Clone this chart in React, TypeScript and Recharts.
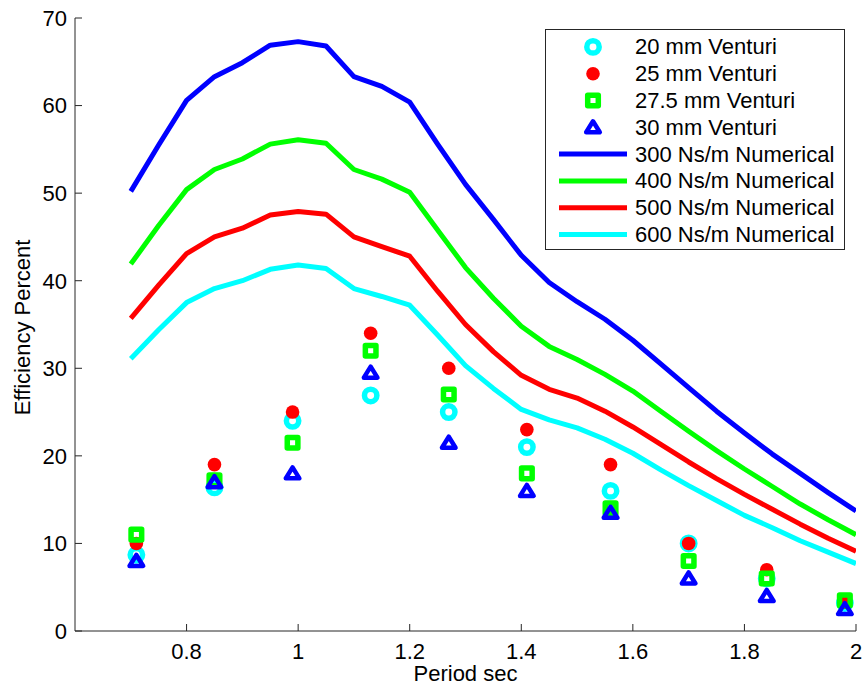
import { ComposedChart, Line, Scatter, XAxis, YAxis, Label } from "recharts";

// numerical model, x = period (s)
const periodNum = [0.7, 0.75, 0.8, 0.85, 0.9, 0.95, 1.0, 1.05, 1.1, 1.15, 1.2, 1.25, 1.3, 1.35, 1.4, 1.45, 1.5, 1.55, 1.6, 1.65, 1.7, 1.75, 1.8, 1.85, 1.9, 1.95, 2.0];
const damp300 = [50.2, 55.5, 60.6, 63.3, 64.9, 66.9, 67.3, 66.8, 63.3, 62.2, 60.4, 55.6, 51.0, 47.0, 42.9, 39.8, 37.6, 35.6, 33.2, 30.5, 27.8, 25.1, 22.6, 20.2, 18.0, 15.8, 13.7];
const damp400 = [41.9, 46.3, 50.4, 52.7, 53.9, 55.6, 56.1, 55.7, 52.7, 51.6, 50.1, 45.8, 41.5, 38.0, 34.8, 32.5, 31.0, 29.3, 27.4, 25.1, 22.8, 20.6, 18.5, 16.5, 14.5, 12.7, 11.0];
const damp500 = [35.7, 39.5, 43.1, 45.0, 46.0, 47.5, 47.9, 47.6, 45.0, 43.9, 42.8, 38.8, 35.0, 31.9, 29.2, 27.6, 26.6, 25.1, 23.3, 21.3, 19.3, 17.4, 15.6, 13.9, 12.2, 10.6, 9.1];
const damp600 = [31.1, 34.4, 37.5, 39.1, 40.0, 41.3, 41.8, 41.4, 39.1, 38.2, 37.2, 33.8, 30.3, 27.7, 25.3, 24.1, 23.2, 21.9, 20.3, 18.4, 16.6, 14.9, 13.2, 11.8, 10.3, 9.0, 7.7];

// experiments
const periodExp = [0.71, 0.85, 0.99, 1.13, 1.27, 1.41, 1.56, 1.7, 1.84, 1.98];
const venturi20 = [8.7, 16.4, 24.0, 26.9, 25.0, 21.0, 16.0, 10.0, 6.0, 3.2];
const venturi25 = [10.0, 19.0, 25.0, 34.0, 30.0, 23.0, 19.0, 10.0, 7.0, 3.3];
const venturi275 = [11.0, 17.2, 21.5, 32.0, 27.0, 18.0, 14.0, 8.0, 6.0, 3.5];
const venturi30 = [8.0, 17.0, 18.0, 29.5, 21.5, 16.0, 13.5, 6.0, 4.0, 2.5];

const xTicks = [0.8, 1, 1.2, 1.4, 1.6, 1.8, 2];
const yTicks = [0, 10, 20, 30, 40, 50, 60, 70];

const FONT = '"Liberation Sans", Arial, sans-serif';
const FS = 22;
const AXIS = "#262626";

const toPts = (xs: number[], ys: number[]) => xs.map((x, i) => ({ x, y: ys[i] }));

const Ring = ({ cx, cy }: any) => <circle cx={cx} cy={cy} r={6.2} fill="none" stroke="#00FFFF" strokeWidth={5.5} />;
const Dot = ({ cx, cy }: any) => <circle cx={cx} cy={cy} r={6.8} fill="#FF0000" />;
const Sq = ({ cx, cy }: any) => (
  <rect x={cx - 5.3} y={cy - 5.3} width={10.6} height={10.6} fill="none" stroke="#00FF00" strokeWidth={5.5} strokeLinejoin="round" />
);
const Tri = ({ cx, cy }: any) => (
  <path d={`M${cx},${cy - 6}L${cx + 6.8},${cy + 5}L${cx - 6.8},${cy + 5}Z`} fill="none" stroke="#0000FF" strokeWidth={4.5} strokeLinejoin="round" />
);

const markers = [
  { name: "20 mm Venturi", ys: venturi20, Shape: Ring },
  { name: "25 mm Venturi", ys: venturi25, Shape: Dot },
  { name: "27.5 mm Venturi", ys: venturi275, Shape: Sq },
  { name: "30 mm Venturi", ys: venturi30, Shape: Tri },
];
const curves = [
  { name: "300 Ns/m Numerical", ys: damp300, color: "#0000FF" },
  { name: "400 Ns/m Numerical", ys: damp400, color: "#00FF00" },
  { name: "500 Ns/m Numerical", ys: damp500, color: "#FF0000" },
  { name: "600 Ns/m Numerical", ys: damp600, color: "#00FFFF" },
];

const YLabel = ({ viewBox }: any) => {
  const cx = 22;
  const cy = viewBox.y + viewBox.height / 2 + 3;
  return (
    <text x={cx} y={cy} transform={`rotate(-90 ${cx} ${cy})`} textAnchor="middle" dominantBaseline="central" fontSize={FS} fontFamily={FONT} fill="#000">
      Efficiency Percent
    </text>
  );
};

const fmt = (v: number) => String(Number(v.toFixed(1)));
const blank = () => "";

function LegendBox() {
  const rowH = 26.8;
  const h = 221;
  return (
    <div style={{ position: "absolute", left: 545, top: 29, width: 300, height: h, background: "#fff", border: `1px solid ${AXIS}`, boxSizing: "border-box" }}>
      <svg width={298} height={h - 2} style={{ display: "block" }}>
        {markers.map((m, i) => {
          const cy = 3.5 + rowH * (i + 0.5);
          return (
            <g key={m.name}>
              <m.Shape cx={47} cy={cy} />
              <text x={89} y={cy} dominantBaseline="central" fontSize={FS} fontFamily={FONT} fill="#000">{m.name}</text>
            </g>
          );
        })}
        {curves.map((c, i) => {
          const cy = 3.5 + rowH * (i + 4.5);
          return (
            <g key={c.name}>
              <line x1={13} x2={81} y1={cy} y2={cy} stroke={c.color} strokeWidth={5} />
              <text x={89} y={cy} dominantBaseline="central" fontSize={FS} fontFamily={FONT} fill="#000">{c.name}</text>
            </g>
          );
        })}
      </svg>
    </div>
  );
}

export default function App() {
  const tickStyle = { fontSize: FS, fontFamily: FONT, fill: "#000" };
  return (
    <div style={{ position: "absolute", left: 0, top: 0, width: 863, height: 687, background: "#fff" }}>
      <ComposedChart width={863} height={687} margin={{ top: 18, right: 7, bottom: 0, left: 0 }}>
        <XAxis
          xAxisId={0}
          type="number"
          dataKey="x"
          domain={[0.6, 2]}
          ticks={xTicks}
          tickFormatter={fmt}
          allowDataOverflow
          height={56}
          stroke={AXIS}
          tickSize={-7}
          tickMargin={19}
          tick={tickStyle}
        >
          <Label value="Period sec" position="insideBottom" offset={6} fontSize={FS} fontFamily={FONT} fill="#000" />
        </XAxis>
        <XAxis xAxisId="top" orientation="top" type="number" domain={[0.6, 2]} ticks={xTicks} tickFormatter={blank} allowDataOverflow height={0} stroke={AXIS} tickSize={-7} />
        <YAxis
          yAxisId={0}
          type="number"
          dataKey="y"
          domain={[0, 70]}
          ticks={yTicks}
          allowDataOverflow
          width={75}
          stroke={AXIS}
          tickSize={-7}
          tickMargin={15}
          tick={tickStyle}
          label={<YLabel />}
        />
        <YAxis yAxisId="right" orientation="right" type="number" domain={[0, 70]} ticks={yTicks} tickFormatter={blank} allowDataOverflow width={0} stroke={AXIS} tickSize={-7} />
        {curves.map((c) => (
          <Line
            key={c.name}
            name={c.name}
            data={toPts(periodNum, c.ys)}
            dataKey="y"
            stroke={c.color}
            strokeWidth={5}
            dot={false}
            activeDot={false}
            strokeLinejoin="round"
            isAnimationActive={false}
          />
        ))}
        {markers.map((m) => (
          <Scatter
            key={m.name}
            name={m.name}
            data={toPts(periodExp, m.ys)}
            dataKey="y"
            shape={(p: any) => <m.Shape cx={p.cx} cy={p.cy} />}
            isAnimationActive={false}
          />
        ))}
      </ComposedChart>
      <LegendBox />
    </div>
  );
}
